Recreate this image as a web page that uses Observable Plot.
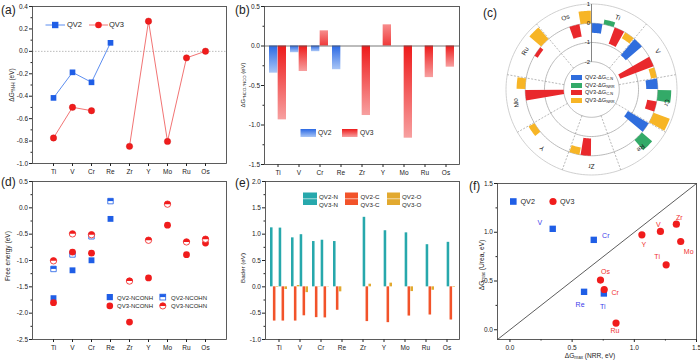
<!DOCTYPE html>
<html><head><meta charset="utf-8">
<script src="https://cdn.jsdelivr.net/npm/d3@7"></script>
<script src="https://cdn.jsdelivr.net/npm/@observablehq/plot@0.6"></script>
<style>
body{margin:0;background:#fff;font-family:Arial,"Liberation Sans",sans-serif;color:#222;}
#root{position:relative;width:700px;height:362px;overflow:hidden;}
.t{position:absolute;white-space:nowrap;line-height:1;}
.yl{position:absolute;white-space:nowrap;line-height:1;transform:translate(-50%,-50%) rotate(-90deg);}
.pl{position:absolute;font-size:12px;line-height:1;}
sub{font-size:70%;vertical-align:-0.25em;line-height:0;}
</style></head>
<body>
<svg width="0" height="0" style="position:absolute"><defs>
<linearGradient id="gBlue" x1="0" y1="0" x2="0" y2="1"><stop offset="0" stop-color="#2a68e4"/><stop offset="1" stop-color="#a9c6f6"/></linearGradient>
<linearGradient id="gRed" x1="0" y1="0" x2="0" y2="1"><stop offset="0" stop-color="#ee1a1a"/><stop offset="1" stop-color="#f7a0a0"/></linearGradient>
<linearGradient id="gRedUp" x1="0" y1="0" x2="0" y2="1"><stop offset="0" stop-color="#f78c8c"/><stop offset="1" stop-color="#ef3a3a"/></linearGradient>
</defs></svg>
<div id="root"></div>
<script>
// ---------- DATA ----------
const cats = ["Ti","V","Cr","Re","Zr","Y","Mo","Ru","Os"];
// (a)
const aQV2 = [-0.415,-0.187,-0.276,0.076,null,null,null,null,null];
const aQV3 = [-0.772,-0.499,-0.529,null,-0.847,0.269,-0.803,-0.058,0.001];
// (b)
const bQV2 = [-0.344,-0.085,-0.072,-0.30,null,null,null,null,null];
const bQV3 = [-0.935,-0.323,0.192,null,-0.88,0.268,-1.167,-0.40,-0.268];
// (c) polar
const pQV2CN  = [-0.5,-1.1,-0.6,-1.25,null,null,null,null,null];
const pQV2NRR = [0.25,0.0,0.7,0.7,null,null,null,null,null];
const pQV3CN  = [-0.9,-1.85,-0.5,null,-0.9,null,-2.0,-0.2,-0.65];
const pQV3NRR = [-0.35,-0.3,0.9,null,-0.38,0.35,0.45,0.8,0.65];
const pRings = [-2,-1,0,1];
// (d)
const dQV2_NCONH = [-1.715,-1.186,-0.996,-0.21,null,null,null,null,null];
const dQV2_NCOHN = [-1.16,-0.885,-0.54,0.128,null,null,null,null,null];
const dQV3_NCONH = [-1.80,-0.84,-0.86,null,-2.17,-1.33,-0.33,-0.89,-0.67];
const dQV3_NCOHN = [-1.006,-0.494,-0.51,null,-1.39,-0.615,0.07,-0.647,-0.596];
// (e)
const eQV2_N = [1.12,0.93,0.86,0.86,null,null,null,null,null];
const eQV2_C = [-0.65,-0.65,-0.585,-0.445,null,null,null,null,null];
const eQV2_O = [-0.01,0.025,0.005,-0.095,null,null,null,null,null];
const eQV3_N = [1.115,0.99,0.885,null,1.32,1.065,1.025,0.80,0.845];
const eQV3_C = [-0.65,-0.55,-0.59,null,-0.66,-0.68,-0.555,-0.535,-0.63];
const eQV3_O = [-0.05,-0.11,-0.005,null,0.05,0.07,-0.09,-0.065,-0.01];
// (f)
const fQV2Names = ["V","Cr","Re","Ti"];
const fQV2X = [0.344,0.674,0.596,0.755];
const fQV2Y = [1.035,0.922,0.389,0.372];
const fQV3Names = ["Y","V","Zr","Mo","Ti","Os","Cr","Ru"];
const fQV3X = [1.061,1.21,1.338,1.373,1.256,0.728,0.758,0.853];
const fQV3Y = [0.974,1.008,1.083,0.905,0.666,0.509,0.413,0.068];
// label offsets (px) for (f)
const fQV2Off = [[-13,-6],[12,-4],[-4,13],[-1,13]];
const fQV3Off = [[2,10],[-2,-7],[3,-6],[8,10],[-9,-8],[5,-8],[11,3],[-1,8]];

// ---------- STYLE ----------
const FONT = 'Arial, "Liberation Sans", sans-serif';
const BLUE="#1f5ee6", BLUE_L="#5d8ef0", RED="#f01c1c", RED_L="#f27474";
const TEAL="#27a8ac", ORANGE="#f2532a", GOLD="#e2a92f";
const fmt1 = d => d.toFixed(1);
const root = document.getElementById("root");
function put(node,left,top){const w=document.createElement("div");w.style.cssText=`position:absolute;left:${left}px;top:${top}px;`;w.appendChild(node);root.appendChild(w);}
function html(s){root.insertAdjacentHTML("beforeend",s);}
function steps(a,b,s){const o=[];for(let v=a;v<=b+1e-9;v+=s)o.push(+v.toFixed(4));return o;}
const rows = arr => cats.map((c,i)=>({c, v: arr[i]==null?NaN:arr[i]}));
const def = arr => cats.map((c,i)=>({c, v: arr[i]})).filter(d=>d.v!=null);
const st = {fontFamily: FONT, color: "#222", background: "transparent", overflow: "visible"};

function catAxes(yMajor, yMinor){
  return [
    Plot.axisY(yMajor,{tickSize:3,tickPadding:1.5,tickFormat:fmt1,fontSize:6.5,label:null}),
    Plot.axisY(yMinor,{tickSize:1.5,tickFormat:()=>"",label:null}),
    Plot.axisX(cats,{tickSize:3,tickPadding:3,fontSize:6.5,label:null})
  ];
}
const frame = Plot.frame({stroke:"#333",strokeWidth:0.8});

// ---------- (a) ----------
put(Plot.plot({
  width:235,height:180,marginLeft:32,marginRight:9,marginTop:6,marginBottom:17,style:st,
  x:{type:"point",domain:cats,padding:0.95},
  y:{domain:[-1.0,0.4]},
  marks:[
    Plot.ruleY([0],{stroke:"#aaa",strokeDasharray:"1.5,1.5",strokeWidth:0.8}),
    Plot.line(rows(aQV2),{x:"c",y:"v",stroke:BLUE_L,strokeWidth:1}),
    Plot.line(rows(aQV3),{x:"c",y:"v",stroke:RED_L,strokeWidth:1}),
    Plot.dot(def(aQV2),{x:"c",y:"v",symbol:"square",r:3.2,fill:BLUE}),
    Plot.dot(def(aQV3),{x:"c",y:"v",r:3.2,fill:RED,stroke:"#d01010",strokeWidth:0.4}),
    ...catAxes(steps(-1,0.4,0.2),steps(-0.9,0.3,0.2)),
    frame
  ]}),0,0);

// ---------- (b) ----------
const bw = 195/9*0.8;
put(Plot.plot({
  width:230,height:180,marginLeft:29,marginRight:6,marginTop:6,marginBottom:16,style:st,
  x:{type:"band",domain:cats,paddingInner:0.2,paddingOuter:0.1},
  y:{domain:[-1.5,0.5]},
  marks:[
    Plot.barY(def(bQV2),{x:"c",y:"v",fill:"url(#gBlue)",insetRight:bw/2}),
    Plot.barY(def(bQV3).filter(d=>d.v<0),{x:"c",y:"v",fill:"url(#gRed)",insetLeft:bw/2}),
    Plot.barY(def(bQV3).filter(d=>d.v>=0),{x:"c",y:"v",fill:"url(#gRedUp)",insetLeft:bw/2}),
    Plot.ruleY([0],{stroke:"#555",strokeWidth:0.8}),
    ...catAxes(steps(-1.5,0.5,0.5),steps(-1.25,0.25,0.5)),
    frame
  ]}),235,0);

// ---------- (c) polar ----------
const rS = d3.scaleLinear([-2,1],[27.8,85.5]);
const rad = d => d*Math.PI/180;
function polarBars(vals, slot, id){
  const out=[];
  vals.forEach((v,i)=>{
    if(v==null||v===0) return;
    const a0=i*40+slot*10+0.5, a1=a0+9, r0=rS(0), r1=rS(v), n=8;
    const pts=[];
    for(let j=0;j<=n;j++){const a=rad(a0+(a1-a0)*j/n);pts.push([r1*Math.sin(a),r1*Math.cos(a)]);}
    for(let j=n;j>=0;j--){const a=rad(a0+(a1-a0)*j/n);pts.push([r0*Math.sin(a),r0*Math.cos(a)]);}
    pts.forEach(p=>out.push({x:p[0],y:p[1],k:id+i}));
  });
  return out;
}
const ringRows=[];
pRings.forEach(v=>{for(let j=0;j<180;j++){const a=rad(j*2);ringRows.push({x:rS(v)*Math.sin(a),y:rS(v)*Math.cos(a),k:v});}});
const spokes = steps(40,320,40).map(a=>({x1:rS(-2)*Math.sin(rad(a)),y1:rS(-2)*Math.cos(rad(a)),x2:rS(1)*Math.sin(rad(a)),y2:rS(1)*Math.cos(rad(a))}));
const catLabels = cats.map((c,i)=>{const a=20+40*i;return {c,x:76.5*Math.sin(rad(a)),y:76.5*Math.cos(rad(a)),rot:a};});
put(Plot.plot({
  width:190,height:180,marginLeft:0,marginRight:0,marginTop:0,marginBottom:0,style:st,
  x:{domain:[-91,99],axis:null},y:{domain:[-91,89],axis:null},
  marks:[
    Plot.line(ringRows,{x:"x",y:"y",z:"k",curve:"linear-closed",stroke:d=>d.k===1?"#c4c4c4":"#a8a8a8",strokeWidth:0.8}),
    Plot.link(spokes,{x1:"x1",y1:"y1",x2:"x2",y2:"y2",stroke:"#999",strokeWidth:0.7,strokeDasharray:"2,1.5"}),
    Plot.link([{a:rS(-2),b:rS(1)}],{x1:()=>0,y1:"a",x2:()=>0,y2:"b",stroke:"#666",strokeWidth:0.8}),
    Plot.line(polarBars(pQV2CN,0,"b"),{x:"x",y:"y",z:"k",curve:"linear-closed",fill:"#2f6ddd",stroke:"none"}),
    Plot.line(polarBars(pQV2NRR,1,"g"),{x:"x",y:"y",z:"k",curve:"linear-closed",fill:"#33aa68",stroke:"none"}),
    Plot.line(polarBars(pQV3CN,2,"r"),{x:"x",y:"y",z:"k",curve:"linear-closed",fill:"#e9282c",stroke:"none"}),
    Plot.line(polarBars(pQV3NRR,3,"y"),{x:"x",y:"y",z:"k",curve:"linear-closed",fill:"#f7b526",stroke:"none"}),
    Plot.text(pRings,{x:()=>-1.5,y:d=>rS(d),text:d=>String(d),textAnchor:"end",fontSize:6}),
    Plot.text(catLabels,{x:"x",y:"y",text:"c",rotate:"rot",fontSize:6.5})
  ]}),500,0);
html(`<div class="t" style="left:571px;top:74px;font-size:5.6px;line-height:7.6px">
<div><span style="display:inline-block;width:11px;height:5px;background:#2f6ddd;margin-right:3px;vertical-align:-1px"></span>QV2-ΔG<sub>C-N</sub></div>
<div><span style="display:inline-block;width:11px;height:5px;background:#33aa68;margin-right:3px;vertical-align:-1px"></span>QV2-ΔG<sub>NRR</sub></div>
<div><span style="display:inline-block;width:11px;height:5px;background:#e9282c;margin-right:3px;vertical-align:-1px"></span>QV3-ΔG<sub>C-N</sub></div>
<div><span style="display:inline-block;width:11px;height:5px;background:#f7b526;margin-right:3px;vertical-align:-1px"></span>QV3-ΔG<sub>NRR</sub></div></div>`);

// ---------- (d) ----------
const halfSquare = {draw(ctx,size){const s=Math.sqrt(size);ctx.rect(-s/2,-s/2,s,s/2);}};
const halfCircle = {draw(ctx,size){const r=Math.sqrt(size/Math.PI);ctx.moveTo(r,0);ctx.arc(0,0,r,0,Math.PI,true);ctx.closePath();}};
put(Plot.plot({
  width:235,height:187,marginLeft:32,marginRight:9,marginTop:6,marginBottom:23,style:st,
  x:{type:"point",domain:cats,padding:0.95},
  y:{domain:[-2.5,0.5]},
  marks:[
    Plot.dot(def(dQV2_NCONH),{x:"c",y:"v",symbol:"square",r:3.3,fill:BLUE}),
    Plot.dot(def(dQV2_NCOHN),{x:"c",y:"v",symbol:"square",r:3.1,fill:"white",stroke:BLUE,strokeWidth:0.8}),
    Plot.dot(def(dQV2_NCOHN),{x:"c",y:"v",symbol:halfSquare,r:3.1,fill:BLUE}),
    Plot.dot(def(dQV3_NCONH),{x:"c",y:"v",r:3.4,fill:RED}),
    Plot.dot(def(dQV3_NCOHN),{x:"c",y:"v",r:3.2,fill:"white",stroke:RED,strokeWidth:0.8}),
    Plot.dot(def(dQV3_NCOHN),{x:"c",y:"v",symbol:halfCircle,r:3.2,fill:RED}),
    ...catAxes(steps(-2.5,0.5,0.5),steps(-2.25,0.25,0.5)),
    frame
  ]}),0,175);
html(`<svg style="position:absolute;left:106px;top:293px" width="8" height="17">
<rect x="0.7" y="1" width="6.2" height="6.2" fill="${BLUE}"/>
<circle cx="3.8" cy="12.9" r="3.3" fill="${RED}"/></svg>
<svg style="position:absolute;left:159px;top:293px" width="8" height="17">
<rect x="0.9" y="1.2" width="5.8" height="5.8" fill="white" stroke="${BLUE}" stroke-width="0.8"/><rect x="0.9" y="1.2" width="5.8" height="2.9" fill="${BLUE}"/>
<circle cx="3.8" cy="12.9" r="3.1" fill="white" stroke="${RED}" stroke-width="0.8"/><path d="M0.7,12.9A3.1,3.1 0 0 1 6.9,12.9Z" fill="${RED}"/></svg>
<div class="t" style="left:117px;top:294px;font-size:6px;line-height:8.4px">QV2-NCONH<br>QV3-NCONH</div>
<div class="t" style="left:171px;top:294px;font-size:6px;line-height:8.4px">QV2-NCOHN<br>QV3-NCOHN</div>`);

// ---------- (e) ----------
const ew = 195/9*0.8/6;
const eSeries = [[eQV2_N,TEAL],[eQV2_C,ORANGE],[eQV2_O,GOLD],[eQV3_N,TEAL],[eQV3_C,ORANGE],[eQV3_O,GOLD]];
put(Plot.plot({
  width:230,height:187,marginLeft:30,marginRight:6,marginTop:6,marginBottom:23,style:st,
  x:{type:"band",domain:cats,paddingInner:0.2,paddingOuter:0.1},
  y:{domain:[-1.0,2.0]},
  marks:[
    ...eSeries.map(([arr,col],k)=>Plot.barY(def(arr),{x:"c",y:"v",fill:col,insetLeft:k*ew,insetRight:(5-k)*ew})),
    ...catAxes(steps(-1,2,0.5),steps(-0.75,1.75,0.5)),
    frame
  ]}),235,175);
html(`<svg style="position:absolute;left:303px;top:192px" width="100" height="14">
<rect x="0" y="0.5" width="14" height="12.5" fill="${TEAL}"/><rect x="42" y="0.5" width="13" height="12.5" fill="${ORANGE}"/><rect x="84" y="0.5" width="13" height="12.5" fill="${GOLD}"/>
<line x1="0" x2="100" y1="6.75" y2="6.75" stroke="white" stroke-width="0.6"/></svg>
<div class="t" style="left:319px;top:193px;font-size:6.2px;line-height:8.3px">QV2-N<br>QV3-N</div>
<div class="t" style="left:360.5px;top:193px;font-size:6.2px;line-height:8.3px">QV2-C<br>QV3-C</div>
<div class="t" style="left:402px;top:193px;font-size:6.2px;line-height:8.3px">QV2-O<br>QV3-O</div>`);

// ---------- (f) ----------
const f2 = fQV2Names.map((n,i)=>({n,x:fQV2X[i],y:fQV2Y[i],dx:fQV2Off[i][0],dy:fQV2Off[i][1]}));
const f3 = fQV3Names.map((n,i)=>({n,x:fQV3X[i],y:fQV3Y[i],dx:fQV3Off[i][0],dy:fQV3Off[i][1]}));
const fTicks=[0,0.5,1,1.5], fMinor=[0.25,0.75,1.25];
put(Plot.plot({
  width:220,height:187,marginLeft:17,marginRight:4,marginTop:8,marginBottom:23,style:st,
  x:{domain:[-0.1,1.5]},y:{domain:[-0.1,1.5]},
  marks:[
    Plot.link([{a:-0.1,b:1.5}],{x1:"a",y1:"a",x2:"b",y2:"b",stroke:"#333",strokeWidth:0.8}),
    Plot.dot(f2,{x:"x",y:"y",symbol:"square",r:3.6,fill:BLUE}),
    Plot.dot(f3,{x:"x",y:"y",r:3.6,fill:RED}),
    ...f2.map(d=>Plot.text([d],{x:"x",y:"y",text:"n",dx:d.dx,dy:d.dy,fill:"#3b3bea",fontSize:7})),
    ...f3.map(d=>Plot.text([d],{x:"x",y:"y",text:"n",dx:d.dx,dy:d.dy,fill:"#f03030",fontSize:7})),
    Plot.axisY(fTicks,{tickSize:3,tickPadding:1.5,tickFormat:fmt1,fontSize:6.5,label:null}),
    Plot.axisY(fMinor,{tickSize:1.5,tickFormat:()=>"",label:null}),
    Plot.axisX(fTicks,{tickSize:3,tickPadding:3,tickFormat:fmt1,fontSize:6.5,label:null}),
    Plot.axisX(fMinor,{tickSize:1.5,tickFormat:()=>"",label:null}),
    frame
  ]}),480,175);
html(`<svg style="position:absolute;left:509px;top:197px" width="50" height="10">
<rect x="1" y="1.2" width="6.6" height="6.6" fill="${BLUE}"/><circle cx="44" cy="4.5" r="3.6" fill="${RED}"/></svg>
<div class="t" style="left:520.5px;top:198px;font-size:7.2px">QV2</div>
<div class="t" style="left:560px;top:198px;font-size:7.2px">QV3</div>`);

// ---------- (a),(b) legends ----------
html(`<svg style="position:absolute;left:44px;top:20px" width="68" height="10">
<line x1="1.5" x2="21" y1="5" y2="5" stroke="${BLUE_L}" stroke-width="1"/><rect x="8" y="1.8" width="6.4" height="6.4" fill="${BLUE}"/>
<line x1="45" x2="64" y1="5" y2="5" stroke="${RED_L}" stroke-width="1"/><circle cx="54.5" cy="5" r="3.3" fill="${RED}"/></svg>
<div class="t" style="left:67px;top:21px;font-size:7.5px">QV2</div>
<div class="t" style="left:109px;top:21px;font-size:7.5px">QV3</div>
<svg style="position:absolute;left:300px;top:129px" width="60" height="9">
<rect x="0.5" y="0" width="15.5" height="8" fill="url(#gBlue)"/><rect x="42" y="0" width="15.5" height="8" fill="url(#gRed)"/></svg>
<div class="t" style="left:318px;top:130px;font-size:6.7px">QV2</div>
<div class="t" style="left:360px;top:130px;font-size:6.7px">QV3</div>`);

// ---------- axis titles & panel letters ----------
html(`<div class="yl" style="left:12px;top:85px;font-size:6.5px">ΔG<sub>*N-H</sub> (eV)</div>
<div class="yl" style="left:243px;top:85px;font-size:6px">ΔG<sub>*NCO-*NCO</sub> (eV)</div>
<div class="yl" style="left:8px;top:256px;font-size:6.6px">Free energy (eV)</div>
<div class="yl" style="left:243px;top:268px;font-size:6.2px">Bader (eV)</div>
<div class="yl" style="left:482px;top:265px;font-size:6.6px">ΔG<sub>max</sub> (Urea, eV)</div>
<div class="t" style="left:590px;top:353px;transform:translateX(-50%);font-size:6.6px">ΔG<sub>max</sub> (NRR, eV)</div>
<div class="pl" style="left:1px;top:4px">(a)</div>
<div class="pl" style="left:235px;top:4px">(b)</div>
<div class="pl" style="left:483px;top:7px">(c)</div>
<div class="pl" style="left:1px;top:176px">(d)</div>
<div class="pl" style="left:235px;top:177px">(e)</div>
<div class="pl" style="left:469px;top:180px">(f)</div>`);
</script>
</body></html>
